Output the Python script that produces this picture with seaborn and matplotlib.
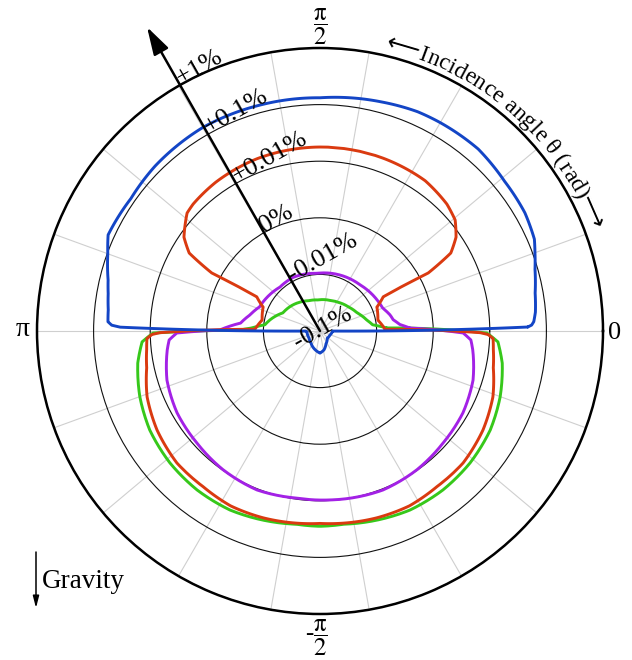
import numpy as np
import pandas as pd
import matplotlib
matplotlib.use("Agg")
import matplotlib.pyplot as plt
import matplotlib.transforms as mtransforms
import seaborn as sns
from matplotlib.font_manager import FontProperties

sns.set_style("white")
plt.rcParams["font.family"] = ["Liberation Serif", "DejaVu Serif", "DejaVu Sans"]
plt.rcParams["mathtext.fontset"] = "stix"
plt.rcParams["text.color"] = "black"
plt.rcParams["axes.edgecolor"] = "black"

# radial rings (percent) and their labels
ring_values = [-0.1, -0.01, 0, 0.01, 0.1, 1]
ring_labels = ["-0.1%", "-0.01%", "0%", "+0.01%", "+0.1%", "+1%"]
spoke_deg = list(range(0, 360, 20))
theta_labels = ["0", r"$\dfrac{\mathrm{\pi}}{2}$", "\u03c0", r"-$\dfrac{\mathrm{\pi}}{2}$"]

# curves: incidence angle (deg) and relative change (%)
blue_theta = [1.1, 1.6, 2.5, 5, 10, 16, 20, 23.2, 30, 39, 49, 60, 66, 75, 90, 105, 120, 135, 145, 155.6, 160,
              166.5, 170, 174.3, 177.5, 178.4, 178.9, 180.3, 184, 212, 233, 246, 270, 282, 295, 315, 338, 350.5,
              359.7]
blue_pct = [0.0468, 0.0550, 0.0603, 0.0661, 0.0724, 0.0895, 0.110, 0.132, 0.151, 0.158, 0.182, 0.178, 0.174,
            0.155, 0.132, 0.135, 0.141, 0.132, 0.120, 0.129, 0.0977, 0.0708, 0.0631, 0.0575, 0.0562, 0.0480,
            0.0339, -0.0562, -0.0589, -0.0589, -0.0543, -0.049, -0.0407, -0.0457, -0.0562, -0.066, -0.0646,
            -0.0617, -0.0603]

red_theta = [1.5, 10.7, 22.8, 28.4, 28.5, 28.2, 30.8, 34.6, 39.4, 45, 55, 70, 90, 110, 125, 135, 138.4, 141.9,
             145.4, 149.2, 151.8, 151.5, 151.6, 157.2, 169.3, 178.5, 180.6, 181.2, 182.5, 186, 192, 200.9, 211.3,
             222.7, 233.1, 242.9, 253, 263, 270, 277, 287, 297.1, 306.9, 317.3, 328.7, 339.1, 348, 354, 357.5,
             358.8, 359.4]
red_pct = [-0.0085, -0.0096, -0.0091, -0.0073, -0.0037, 0.0017, 0.0069, 0.0092, 0.0123, 0.0148, 0.0174, 0.0178,
           0.0178, 0.0174, 0.0162, 0.0148, 0.0138, 0.0107, 0.0092, 0.0069, 0.0017, -0.0037, -0.0073, -0.0091,
           -0.0096, -0.0085, 0.0083, 0.0097, 0.0115, 0.0120, 0.0135, 0.0186, 0.0234, 0.0275, 0.0275, 0.0295,
           0.0282, 0.0263, 0.0251, 0.0263, 0.0282, 0.0295, 0.0275, 0.0275, 0.0234, 0.0186, 0.0135, 0.0120,
           0.0115, 0.0097, 0.0083]

purple_theta = [1.9, 4.5, 8.6, 12.9, 20, 28, 49, 70.3, 93, 116.6, 132.3, 153, 158.2, 167.1, 174.3, 179.4, 180.8,
                183.4, 187.1, 197.8, 209.8, 222.3, 235, 248.4, 262.2, 273.4, 291.6, 305, 317.7, 330.2, 342.2,
                352.9, 356.6, 359.2]
purple_pct = [-0.0041, -0.0058, -0.0069, -0.0073, -0.0082, -0.0085, -0.0092, -0.0095, -0.0098, -0.0094, -0.0095,
              -0.0087, -0.0085, -0.0073, -0.0059, -0.0023, 0.0053, 0.0067, 0.0072, 0.0084, 0.0091, 0.0094,
              0.0099, 0.0105, 0.0098, 0.0099, 0.0105, 0.0099, 0.0094, 0.0091, 0.0084, 0.0072, 0.0067, 0.0053]

green_theta = [2.6, 6.5, 13, 26, 40, 54.5, 70, 93.7, 110, 124.6, 140, 154, 167, 173.5, 177.4, 179.3, 180.7,
               183.5, 190, 200.1, 210.2, 221.3, 232.3, 243.3, 253.2, 263, 270, 277, 286.8, 296.7, 307.7, 318.7,
               329.8, 339.9, 350, 356.5, 359.3]
green_pct = [-0.0082, -0.0115, -0.0141, -0.0186, -0.0219, -0.0245, -0.0269, -0.0282, -0.0269, -0.0240, -0.0209,
             -0.0186, -0.0126, -0.0105, -0.0080, -0.0059, 0.0095, 0.0141, 0.0186, 0.0245, 0.0302, 0.0339, 0.0355,
             0.0347, 0.0309, 0.0275, 0.0282, 0.0275, 0.0309, 0.0347, 0.0355, 0.0339, 0.0302, 0.0245, 0.0186,
             0.0141, 0.0095]

colors = {"blue": "#1345c6", "red": "#da3a10", "purple": "#a321e6", "green": "#36c81a"}
curves = {"green": (green_theta, green_pct), "purple": (purple_theta, purple_pct),
          "red": (red_theta, red_pct), "blue": (blue_theta, blue_pct)}

frames = []
for name, (t, v) in curves.items():
    t = list(t) + [t[0] + 360]   # close the loop
    v = list(v) + [v[0]]
    frames.append(pd.DataFrame({"theta": np.deg2rad(t), "pct": v, "curve": name}))
df = pd.concat(frames, ignore_index=True)

W, H = 632, 660
cx, cy = 320, 331          # centre of the dial in image pixels
R = 283


def fig_xy(x, y):
    return x / W, (H - y) / H


fig = plt.figure(figsize=(W / 100, H / 100), dpi=100)
ax = fig.add_axes([(cx - R) / W, (H - cy - R) / H, 2 * R / W, 2 * R / H], projection="polar")
ax.set_rscale("symlog", linthresh=0.01, linscale=0.9)

sns.lineplot(data=df, x="theta", y="pct", hue="curve", palette=colors, hue_order=list(curves),
             sort=False, estimator=None, lw=2.1, legend=False, ax=ax)
# draw segments as polar arcs rather than straight chords
for line in ax.lines:
    line.get_path()._interpolation_steps = 24

ax.set_thetalim(0, 2 * np.pi)
ax.set_rlim(-0.1, 1)
ax.set_xlabel("")
ax.set_ylabel("")
ax.set_xticks(np.deg2rad(spoke_deg))
ax.set_xticklabels([])
ax.set_yticks(ring_values)
ax.set_yticklabels([])
ax.tick_params(length=0)
ax.xaxis.grid(True, color="#cfcfcf", lw=0.8)
ax.yaxis.grid(True, color="#111111", lw=0.8)
ax.spines["polar"].set_linewidth(1.8)
ax.spines["polar"].set_color("black")

# radial arrow with ring labels
arrow_deg = 119.6
ax.annotate("", xy=fig_xy(147, 27), xytext=fig_xy(cx, cy), xycoords="figure fraction",
            arrowprops=dict(arrowstyle="-|>,head_length=1.7,head_width=0.5", color="k", lw=1.8,
                            shrinkA=0, shrinkB=0, mutation_scale=10), zorder=5)
a = np.deg2rad(arrow_deg)
tx, ty = np.cos(a - np.pi / 2), np.sin(a - np.pi / 2)
nx, ny = np.cos(a), np.sin(a)
for val, lab in zip(ring_values, ring_labels):
    if val == ring_values[0]:
        tr = mtransforms.offset_copy(ax.transData, fig=fig, x=4 * tx - 5 * nx, y=4 * ty - 5 * ny, units="dots")
        ax.text(a, val, lab, transform=tr, rotation=arrow_deg - 90, rotation_mode="anchor",
                ha="center", va="baseline", fontsize=19, color="black", zorder=6)
    else:
        ax.text(a, val, lab, rotation=arrow_deg - 90, rotation_mode="anchor",
                ha="left", va="baseline", fontsize=19, color="black", zorder=6)

# angle labels
for (px, py), lab, fs in zip([(615, 333), (320, 27), (23, 330), (316, 638)], theta_labels, [19, 18, 20, 18]):
    fig.text(*fig_xy(px, py), lab, ha="center", va="center", fontsize=fs, color="black")

# curved axis title
title = "\u27f5Incidence angle \u03b8 (rad)\u27f6"
fp = FontProperties(family=["Liberation Serif", "DejaVu Sans"], size=17)
renderer = fig.canvas.get_renderer()
r_text = 289
start = np.deg2rad(77)
for i, ch in enumerate(title):
    if ch == " ":
        continue
    w_pre = renderer.get_text_width_height_descent(title[:i + 1], fp, ismath=False)[0]
    w_ch = renderer.get_text_width_height_descent(ch, fp, ismath=False)[0]
    ang = start - (w_pre - w_ch / 2) / r_text
    x = cx + r_text * np.cos(ang)
    y = cy - r_text * np.sin(ang)
    fig.text(*fig_xy(x, y), ch, rotation=np.rad2deg(ang) - 90, rotation_mode="anchor",
             ha="center", va="baseline", fontproperties=fp, color="black")

# gravity marker
fig.text(*fig_xy(42, 588), "Gravity", ha="left", va="baseline", fontsize=19.5, color="black")
ax.annotate("", xy=fig_xy(36, 608), xytext=fig_xy(36, 552), xycoords="figure fraction",
            arrowprops=dict(arrowstyle="-|>,head_length=0.7,head_width=0.18", color="k", lw=1.1,
                            shrinkA=0, shrinkB=0, mutation_scale=10))

fig.savefig("out.png", dpi=100)
